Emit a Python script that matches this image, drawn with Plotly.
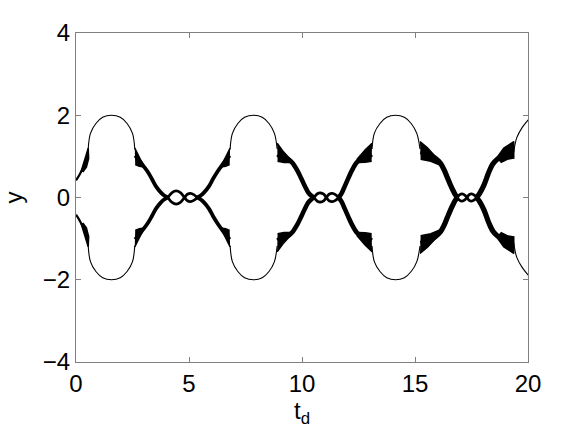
import plotly.graph_objects as go

# ---------------- data ----------------
# outer lobes (upper half; the lower half is the mirror image)
lobe_y = [1.18, 1.56, 1.80, 1.95, 2.00, 1.95, 1.80, 1.56, 1.18]
lobe1_t = [0.54, 0.64, 0.88, 1.18, 1.57, 1.96, 2.26, 2.50, 2.60]
lobe2_t = [6.82, 6.92, 7.16, 7.46, 7.85, 8.24, 8.54, 8.78, 8.90]
lobe3_t = [13.10, 13.20, 13.45, 13.75, 14.14, 14.53, 14.83, 15.08, 15.22]
lobe4_t = [19.37, 19.50, 19.74, 20.03]
lobe4_y = [1.10, 1.45, 1.70, 1.90]

# band entering at t = 0
band0_t = [0.00, 0.10, 0.22, 0.36]
band0_y = [0.42, 0.50, 0.62, 0.78]

# period 1 (crossings near t = 4.06 and 5.37)
p1_left_t = [2.62, 2.80, 2.98, 3.18, 3.36, 3.54, 3.74, 3.90, 4.06]
p1_left_y = [1.02, 0.90, 0.77, 0.62, 0.45, 0.27, 0.13, 0.05, 0.00]
p1_dia_t = [4.06, 4.25, 4.43, 4.62, 4.80, 4.93, 5.07, 5.21, 5.37]
p1_dia_y = [0.00, -0.12, -0.16, -0.12, 0.00, 0.08, 0.10, 0.07, 0.00]
p1_right_t = [5.37, 5.52, 5.68, 5.88, 6.06, 6.25, 6.44, 6.62, 6.80]
p1_right_y = [0.00, -0.05, -0.13, -0.27, -0.45, -0.62, -0.77, -0.90, -1.02]

# period 2 (crossings near t = 10.53 and 11.62)
p2_left_t = [8.92, 9.15, 9.40, 9.58, 9.79, 9.97, 10.14, 10.28, 10.42, 10.53]
p2_left_y = [1.05, 0.97, 0.93, 0.84, 0.66, 0.46, 0.26, 0.12, 0.04, 0.00]
p2_dia_t = [10.53, 10.68, 10.82, 10.96, 11.08, 11.20, 11.34, 11.48, 11.62]
p2_dia_y = [0.00, -0.09, -0.11, -0.08, 0.00, 0.08, 0.10, 0.07, 0.00]
p2_right_t = [11.62, 11.75, 11.88, 12.05, 12.21, 12.42, 12.60, 12.85, 13.08]
p2_right_y = [0.00, -0.10, -0.26, -0.47, -0.66, -0.85, -0.93, -0.97, -1.05]

# period 3 (crossings near t = 16.87 and 17.73)
p3_left_t = [15.25, 15.60, 15.90, 16.13, 16.30, 16.42, 16.55, 16.66, 16.77, 16.87]
p3_left_y = [1.12, 1.05, 0.95, 0.83, 0.66, 0.50, 0.33, 0.20, 0.08, 0.00]
p3_dia_t = [16.87, 16.98, 17.09, 17.20, 17.30, 17.40, 17.51, 17.62, 17.73]
p3_dia_y = [0.00, -0.07, -0.09, -0.06, 0.00, 0.07, 0.09, 0.06, 0.00]
p3_right_t = [17.73, 17.86, 18.05, 18.27, 18.45, 18.62, 18.95, 19.35]
p3_right_y = [0.00, -0.10, -0.30, -0.62, -0.82, -0.92, -1.05, -1.12]

# filled wedges / trumpets at the ends of the lobes (upper half)
wedge_t = [
    [0.22, 0.40, 0.54, 0.56, 0.46, 0.30],
    [2.60, 2.74, 2.88, 3.02, 2.80, 2.62],
    [6.82, 6.68, 6.54, 6.40, 6.62, 6.80],
    [8.90, 9.15, 9.50, 9.55, 9.20, 8.92],
    [13.10, 12.80, 12.44, 12.50, 12.80, 13.08],
    [15.22, 15.55, 15.90, 16.12, 16.05, 15.70, 15.25],
    [18.60, 18.93, 19.37, 19.37, 19.08, 18.79],
]
wedge_y = [
    [0.62, 0.92, 1.20, 0.95, 0.74, 0.62],
    [1.20, 1.03, 0.89, 0.74, 0.76, 0.80],
    [1.20, 1.03, 0.89, 0.74, 0.76, 0.80],
    [1.32, 1.13, 0.92, 0.85, 0.85, 0.88],
    [1.32, 1.16, 0.93, 0.85, 0.86, 0.88],
    [1.36, 1.21, 1.00, 0.86, 0.80, 0.88, 0.93],
    [0.95, 1.20, 1.36, 0.96, 0.93, 0.85],
]

x_ticks = [0, 5, 10, 15, 20]
y_ticks = [-4, -2, 0, 2, 4]

# ---------------- figure ----------------
fig = go.Figure()
BLACK = "#000000"


def neg(v):
    return [-a for a in v]


# wedges
for wt, wy in zip(wedge_t, wedge_y):
    for ys in (wy, neg(wy)):
        fig.add_trace(go.Scatter(x=wt, y=ys, mode="lines", fill="toself",
                                 fillcolor=BLACK, line=dict(color=BLACK, width=1.5),
                                 hoverinfo="skip", showlegend=False))

# bands: (t, y, width)
bands = [
    (band0_t, band0_y, 2.2),
    (p1_left_t, p1_left_y, 3.8), (p1_dia_t, p1_dia_y, 2.8), (p1_right_t, p1_right_y, 3.8),
    (p2_left_t, p2_left_y, 4.6), (p2_dia_t, p2_dia_y, 2.8), (p2_right_t, p2_right_y, 4.6),
    (p3_left_t, p3_left_y, 5.2), (p3_dia_t, p3_dia_y, 2.8), (p3_right_t, p3_right_y, 5.2),
]
for bt, by, w in bands:
    for ys in (by, neg(by)):
        fig.add_trace(go.Scatter(x=bt, y=ys, mode="lines",
                                 line=dict(color=BLACK, width=w, shape="spline", smoothing=1.0),
                                 hoverinfo="skip", showlegend=False))

# lobes
lobes = [(lobe1_t, lobe_y), (lobe2_t, lobe_y), (lobe3_t, lobe_y), (lobe4_t, lobe4_y)]
for lt, ly in lobes:
    for ys in (ly, neg(ly)):
        fig.add_trace(go.Scatter(x=lt, y=ys, mode="lines",
                                 line=dict(color=BLACK, width=1.1, shape="spline", smoothing=1.0),
                                 hoverinfo="skip", showlegend=False))

FONT = "Liberation Sans, Arial, sans-serif"
axis_common = dict(
    showline=True, linecolor="#808080", linewidth=1.3, mirror="ticks",
    ticks="inside", ticklen=5, tickcolor="#808080", tickwidth=1,
    showgrid=False, zeroline=False,
    tickfont=dict(family=FONT, size=24, color="black"),
)

fig.update_xaxes(range=[0, 20], tickvals=x_ticks, ticktext=[str(v) for v in x_ticks],
                 title=dict(text="t<sub>d</sub>", standoff=2,
                            font=dict(family=FONT, size=24, color="black")),
                 **axis_common)
fig.update_yaxes(range=[-4, 4], tickvals=y_ticks,
                 ticktext=["\u22124", "\u22122", "0", "2", "4"],
                 title=dict(text="y", standoff=14,
                            font=dict(family=FONT, size=24, color="black")),
                 **axis_common)

fig.update_layout(
    width=584, height=439,
    margin=dict(l=76, r=56, t=33, b=77, autoexpand=False),
    paper_bgcolor="white", plot_bgcolor="white",
    showlegend=False,
)

fig.write_html("out.html", config={"displayModeBar": False},
               post_script="document.body.style.margin='0';document.body.style.padding='0';")
